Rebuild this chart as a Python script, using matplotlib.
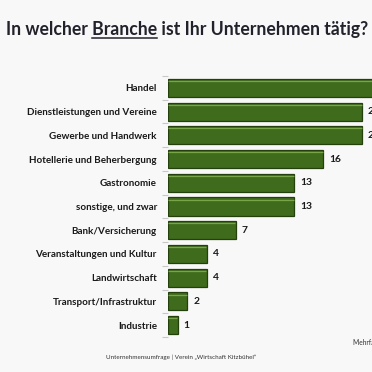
import matplotlib
matplotlib.use('Agg')
from matplotlib import pyplot as plt
from matplotlib.lines import Line2D
import numpy as np

# Survey answers, top to bottom
categories = ['Handel', 'Dienstleistungen und Vereine', 'Gewerbe und Handwerk',
              'Hotellerie und Beherbergung', 'Gastronomie', 'sonstige, und zwar',
              'Bank/Versicherung', 'Veranstaltungen und Kultur', 'Landwirtschaft',
              'Transport/Infrastruktur', 'Industrie']
counts = [24, 20, 20, 16, 13, 13, 7, 4, 4, 2, 1]

title_pre = 'In welcher '
title_word = 'Branche'
title_post = ' ist Ihr Unternehmen tätig?'
footer = 'Unternehmensumfrage | Verein „Wirtschaft Kitzbühel“'
note = 'Mehrfachnennungen möglich'

plt.rcParams['font.family'] = ['Lato', 'DejaVu Sans']

bg = '#f8f8f8'
green = '#3f6c1c'
edge = '#24400c'
light = '#77a548'
txt = '#1a1a1a'

fig = plt.figure(figsize=(3.72, 3.72), dpi=100, facecolor=bg)
W = 372.0
ax = fig.add_axes([168 / W, 35 / W, 291 / W, 261 / W])
ax.set_facecolor(bg)

y = np.arange(len(categories))
bars = ax.barh(y, counts, height=0.76, color=green, edgecolor=edge, linewidth=0.9)
# light bevel on the top of each bar
for yi, c in zip(y, counts):
    ax.plot([0.05, c - 0.05], [yi - 0.29, yi - 0.29], color=light, lw=0.9,
            solid_capstyle='butt')

for yi, c in zip(y, counts):
    ax.text(c + 0.6, yi, str(c), va='center', ha='left', fontsize=7.4,
            fontweight='bold', color=txt)

ax.set_xlim(0, 30)
ax.set_ylim(len(categories) - 0.5, -0.5)
ax.set_yticks(y)
ax.set_yticklabels(categories, fontsize=7.1, fontweight='bold', color=txt)
ax.tick_params(axis='y', which='major', length=0, pad=8)
ax.set_yticks(np.arange(-0.5, len(categories)), minor=True)
ax.tick_params(axis='y', which='minor', length=4, color='#c8c8c8', width=0.8)
ax.set_xticks([])
for s in ax.spines.values():
    s.set_visible(False)

# title with underlined word
ty = 1 - 30 / W
fs = 12.7
t_full = fig.text(187 / W, ty, title_pre + title_word + title_post, ha='center', va='center',
                  fontsize=fs, fontweight='bold', color='#22222c')
fig.canvas.draw()
r = fig.canvas.get_renderer()
bb = t_full.get_window_extent(r)


def width_of(s):
    t = fig.text(0, 0, s, fontsize=fs, fontweight='bold')
    w = t.get_window_extent(r).width
    t.remove()
    return w


x0 = bb.x0 + width_of(title_pre)
x1 = x0 + width_of(title_word)
uy = bb.y0 + 1
fig.add_artist(Line2D([x0 / W, x1 / W], [uy / W, uy / W], color='#22222c', lw=1.1,
                      transform=fig.transFigure))

fig.text(181 / W, 1 - 357 / W, footer, ha='center', va='center', fontsize=4.5, color='#333333')
fig.text(353 / W, 1 - 343 / W, note, ha='left', va='center', fontsize=4.8, color='#333333')

fig.savefig('out.png', dpi=100, facecolor=bg)
